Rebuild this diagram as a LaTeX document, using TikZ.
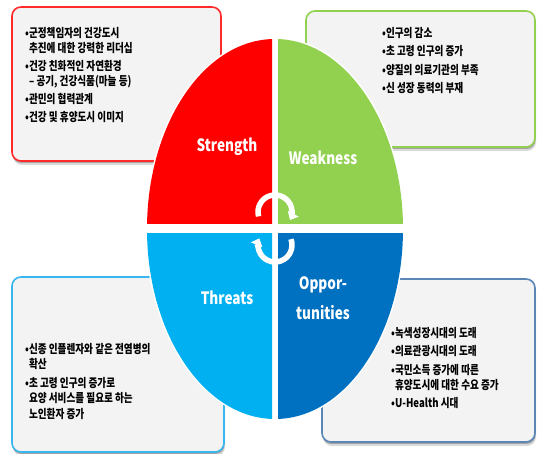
\documentclass[tikz,border=0pt]{standalone}
\usepackage{fontspec}
\newfontfamily\kr{Noto Sans CJK KR}[FakeStretch=0.8]
\newfontfamily\krl{Noto Sans CJK KR}[FakeStretch=0.8]
\usetikzlibrary{arrows.meta,calc}
\definecolor{qred}{HTML}{FF0000}
\definecolor{qgreen}{HTML}{92D050}
\definecolor{qlblue}{HTML}{00B0F0}
\definecolor{qdblue}{HTML}{0070C0}
\definecolor{boxfill}{HTML}{F3F3F3}
\definecolor{bred}{HTML}{FF2A2A}
\definecolor{bgreen}{HTML}{92D050}
\definecolor{blblue}{HTML}{38B6EE}
\definecolor{bsteel}{HTML}{5A87B5}
\tikzset{
  box/.style={rounded corners=9pt, line width=1.6pt, fill=boxfill},
  shadowA/.style={rounded corners=9pt, fill=black, opacity=0.15},
  shadowB/.style={rounded corners=9pt, fill=black, opacity=0.25},
  txt/.style={anchor=north west, inner sep=0pt, align=left,
    font=\kr\bfseries\fontsize{12}{15.5}\selectfont},
  lab/.style={text=white, inner sep=0pt, align=center,
    font=\krl\bfseries\fontsize{17}{30}\selectfont},
  arr/.style={white, line width=5.5pt, -{Triangle[width=12pt,length=7pt]}},
}
\begin{document}
\begin{tikzpicture}[x=1pt,y=1pt]
\useasboundingbox (0,0) rectangle (538,454);
% shadows
\foreach \a/\b/\c/\d in {12/293/221/447, 306/307/535/443, 12/2/224/177, 322/12/535/175} {
  \fill[shadowA] (\a+1,\b-4) rectangle (\c+1,\d-4);
  \fill[shadowB] (\a+0.5,\b-2) rectangle (\c+0.5,\d-2);
}
% boxes
\draw[box, draw=bred] (12,293) rectangle (221,447);
\draw[box, draw=bgreen] (306,307) rectangle (535,443);
\draw[box, draw=blblue] (12,2) rectangle (224,177);
\draw[box, draw=bsteel] (322,12) rectangle (535,175);
% ellipse
\fill[white] (275,225) ellipse [x radius=129.5pt, y radius=191.5pt];
\begin{scope}
  \clip (0,230.5) rectangle (272,454);
  \fill[qred] (275,225) ellipse [x radius=128pt, y radius=190pt];
\end{scope}
\begin{scope}
  \clip (278,230.5) rectangle (538,454);
  \fill[qgreen] (275,225) ellipse [x radius=128pt, y radius=190pt];
\end{scope}
\begin{scope}
  \clip (0,0) rectangle (272,220);
  \fill[qlblue] (275,225) ellipse [x radius=128pt, y radius=190pt];
\end{scope}
\begin{scope}
  \clip (278,0) rectangle (538,220);
  \fill[qdblue] (275,225) ellipse [x radius=128pt, y radius=190pt];
\end{scope}
% cycle arrows
\draw[arr] (275,242) ++(195:17) arc[start angle=195, end angle=-28, radius=17];
\draw[arr] (275,209) ++(20:17) arc[start angle=20, end angle=-203, radius=17];
% labels
\node[lab] (s) at (227,307) {Strength};
\node[lab] (w) at (323,296) {Weakness};
\node[lab] (t) at (227,156) {Threats};
\node[lab] (o) at (323,156) {Oppor-\\tunities};
% texts
\node[txt] (tl) at (25,427) {•군정책임자의 건강도시\\[0pt]
\phantom{•}추진에 대한 강력한 리더십\\[2pt]
•건강 친화적인 자연환경\\[0pt]
\phantom{•}– 공기, 건강식품(마늘 등)\\[2.5pt]
•관민의 협력관계\\[2.5pt]
•건강 및 휴양도시 이미지};
\node[txt] (tr) at (382,427) {•인구의 감소\\[3pt]
•초 고령 인구의 증가\\[3pt]
•양질의 의료기관의 부족\\[3pt]
•신 성장 동력의 부재};
\node[txt] (bl) at (25,111) {•신종 인플렌자와 같은 전염병의\\[0pt]
\phantom{•}확산\\[3pt]
•초 고령 인구의 증가로\\[0pt]
\phantom{•}요양 서비스를 필요로 하는\\[0pt]
\phantom{•}노인환자 증가};
\node[txt] (br) at (391,127) {•녹색성장시대의 도래\\[3pt]
•의료관광시대의 도래\\[3pt]
•국민소득 증가에 따른\\[0pt]
\phantom{•}휴양도시에 대한 수요 증가\\[2pt]
•U-Health 시대};
\end{tikzpicture}
\end{document}
